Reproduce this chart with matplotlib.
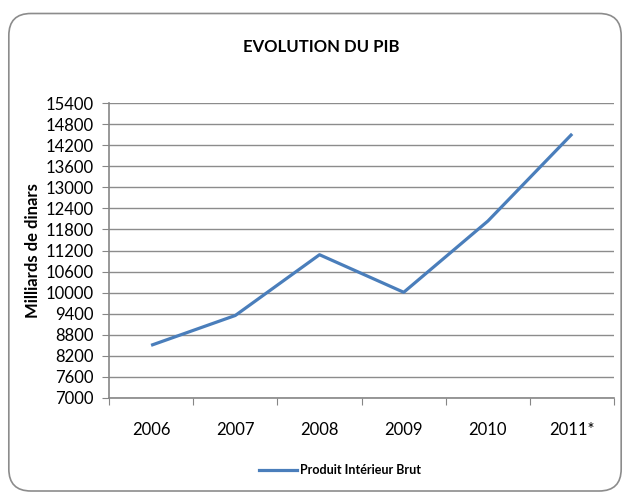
import matplotlib.pyplot as plt
from matplotlib.patches import FancyBboxPatch
from matplotlib.lines import Line2D

# Data
years = ["2006", "2007", "2008", "2009", "2010", "2011*"]
pib = [8500, 9350, 11080, 10010, 12040, 14520]

y_ticks = list(range(7000, 15401, 600))

plt.rcParams["font.family"] = ["Lato", "DejaVu Sans"]

fig = plt.figure(figsize=(6.3, 5), dpi=100)
ax = fig.add_axes([0.173, 0.204, 0.802, 0.590])

# Rounded outer frame like an Excel chart area
frame = FancyBboxPatch((0.014, 0.018), 0.972, 0.955,
                       boxstyle="round,pad=0,rounding_size=0.035",
                       transform=fig.transFigure, facecolor="none",
                       edgecolor="#8c8c8c", linewidth=1.2, mutation_aspect=630 / 500)
fig.patches.append(frame)

x = [i + 0.5 for i in range(len(years))]
ax.plot(x, pib, color="#4a7ebb", linewidth=2.3, solid_capstyle="butt")

ax.set_xlim(0, len(years))
ax.set_ylim(7000, 15400)
ax.set_yticks(y_ticks)
ax.set_xticks(range(len(years) + 1))
ax.set_xticklabels([])
ax.set_xticks(x, minor=True)
ax.set_xticklabels(years, minor=True)
ax.tick_params(axis="x", which="minor", length=0, pad=17, labelsize=12)
ax.tick_params(axis="x", which="major", length=5, color="#868686", direction="out")
ax.tick_params(axis="y", length=5, color="#868686", pad=6, labelsize=12)

ax.grid(axis="y", color="#8c8c8c", linewidth=1)
ax.set_axisbelow(True)
for side in ["top", "right"]:
    ax.spines[side].set_visible(False)
for side in ["left", "bottom"]:
    ax.spines[side].set_color("#868686")
    ax.spines[side].set_linewidth(1.2)

ax.set_ylabel("Milliards de dinars", fontsize=12, fontweight="bold", labelpad=3)

fig.text(0.51, 0.906, "EVOLUTION DU PIB", ha="center", va="center",
         fontsize=12, fontweight="bold")

handle = Line2D([], [], color="#4a7ebb", linewidth=2.3)
fig.legend([handle], ["Produit Intérieur Brut"], loc="center",
           bbox_to_anchor=(0.54, 0.06), frameon=False,
           prop={"size": 9, "weight": "bold"}, handlelength=3.0, handletextpad=0.3)

plt.savefig("out.png", dpi=100)
